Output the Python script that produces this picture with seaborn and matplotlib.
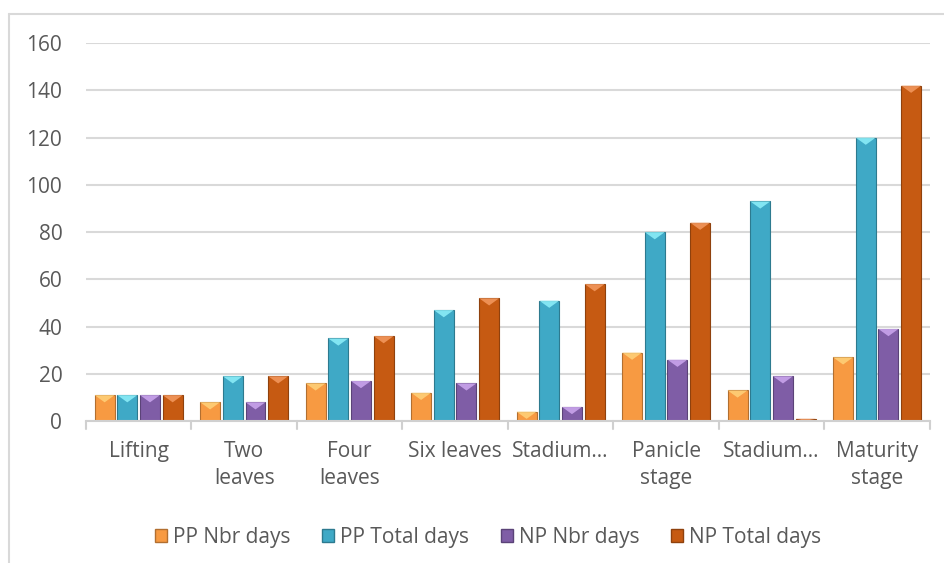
import numpy as np
import pandas as pd
import matplotlib
matplotlib.use("Agg")
import matplotlib.pyplot as plt
from matplotlib.patches import Polygon, Patch
from matplotlib.lines import Line2D
import seaborn as sns

# Growth stages and day counts
stages = ["Lifting", "Two\nleaves", "Four\nleaves", "Six leaves", "Stadium…",
          "Panicle\nstage", "Stadium…", "Maturity\nstage"]
series = ["PP Nbr days", "PP Total days", "NP Nbr days", "NP Total days"]
pp_nbr = [11, 8, 16, 12, 4, 29, 13, 27]
pp_total = [11, 19, 35, 47, 51, 80, 93, 120]
np_nbr = [11, 8, 17, 16, 6, 26, 19, 39]
np_total = [11, 19, 36, 52, 58, 84, 1, 142]
colors = ["#F79A42", "#3FA9C6", "#7F5DA6", "#C65A12"]
tops = ["#FFD27A", "#8EF0FA", "#CDA8F0", "#F49A60"]

stage_ids = [f"s{i}" for i in range(len(stages))]
df = pd.DataFrame({
    "stage": stage_ids * 4,
    "series": np.repeat(series, len(stages)),
    "days": pp_nbr + pp_total + np_nbr + np_total,
})

sns.set_theme(style="white")
plt.rcParams["font.family"] = ["Open Sans", "DejaVu Sans"]
FS = 15
TXT = "#595959"

fig = plt.figure(figsize=(9.44, 5.63), dpi=100)
ax = fig.add_axes([0.091, 0.252, 0.894, 0.6714])

sns.barplot(data=df, x="stage", y="days", hue="series", order=stage_ids,
            hue_order=series, palette=colors, width=0.86, gap=0.12,
            saturation=1, edgecolor="none", legend=False, ax=ax)

ax.set_ylim(0, 160)
ax.set_yticks(range(0, 161, 20))
ax.set_xlim(-0.5, len(stages) - 0.5)
ax.grid(axis="y", color="#D9D9D9", linewidth=1.5)
ax.set_axisbelow(True)
for s in ["top", "right", "left"]:
    ax.spines[s].set_visible(False)
ax.spines["bottom"].set_color("#D0D0D0")
ax.spines["bottom"].set_linewidth(1.5)

# bevelled look: darker outline and lighter triangle on top of every bar
px_per_unit = (0.6714 * 563) / 160
depth = 8 / px_per_unit
hex_colors = [c.upper() for c in colors]
for p in ax.patches:
    h = p.get_height()
    if h <= 0:
        continue
    x0, w = p.get_x(), p.get_width()
    fc = p.get_facecolor()
    key = matplotlib.colors.to_hex(fc[:3]).upper()
    ci = hex_colors.index(key) if key in hex_colors else 0
    dark = tuple(np.array(fc[:3]) * 0.72)
    p.set_edgecolor(dark)
    p.set_linewidth(0.8)
    d = min(depth, h)
    tri = Polygon([(x0, h), (x0 + w, h), (x0 + w / 2, h - d * 0.9)],
                  closed=True, facecolor=tops[ci], edgecolor="none", alpha=0.85)
    ax.add_patch(tri)

ax.set_xticks(range(len(stages)))
ax.set_xticklabels(stages, fontsize=FS, color=TXT, linespacing=1.4)
ax.tick_params(axis="x", length=0, pad=14)
ax.tick_params(axis="y", length=0, labelsize=FS, labelcolor=TXT, pad=17)
ax.set_xlabel("")
ax.set_ylabel("")

# category separators under the axis
for b in np.arange(-0.5, len(stages), 1.0):
    ax.plot([b, b], [0, -3.4], color="#D0D0D0", lw=1.5, clip_on=False)

# chart border
fig.add_artist(Line2D([0.0095, 0.0095], [0, 0.975], color="#D9D9D9", lw=1.5))
fig.add_artist(Line2D([0.0095, 1.0], [0.975, 0.975], color="#D9D9D9", lw=1.5))

handles = [Patch(facecolor=c, edgecolor=tuple(np.array(matplotlib.colors.to_rgb(c)) * 0.72))
           for c in colors]
leg = fig.legend(handles, series, loc="center", bbox_to_anchor=(0.517, 0.046),
                 ncol=4, frameon=False, fontsize=FS, handlelength=0.58,
                 handleheight=0.58, handletextpad=0.3, columnspacing=1.5)
for t in leg.get_texts():
    t.set_color(TXT)

fig.savefig("out.png", dpi=100)
